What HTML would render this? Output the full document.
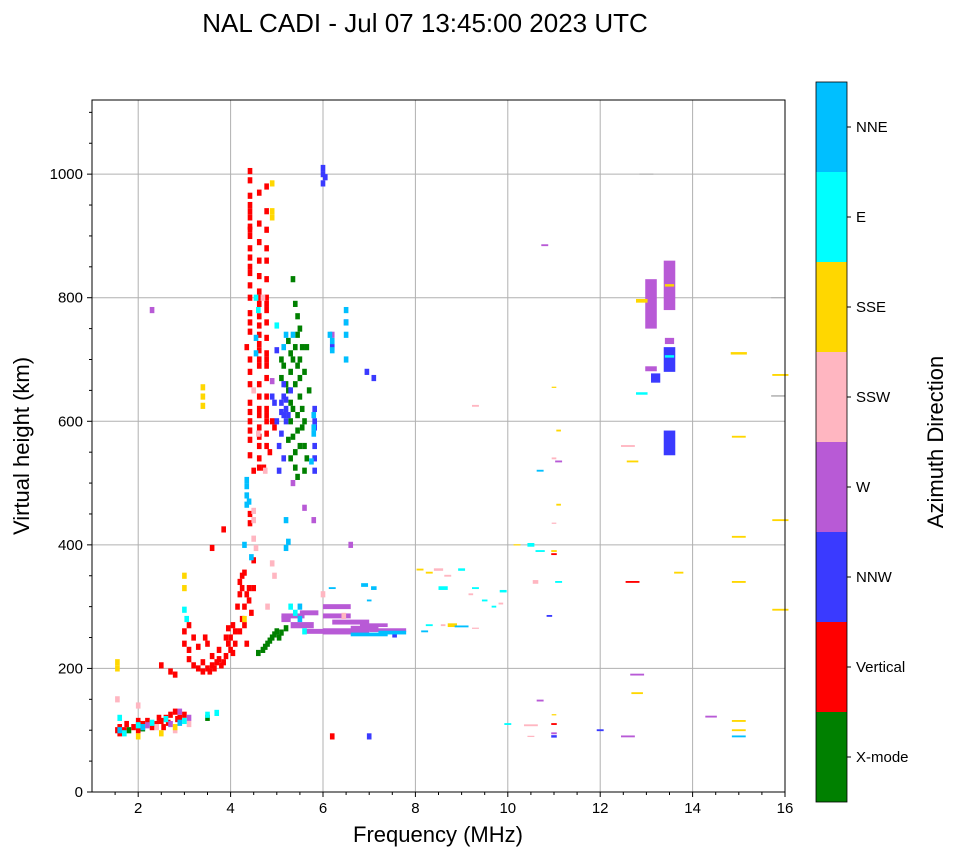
<!DOCTYPE html>
<html><head><meta charset="utf-8">
<style>
body{margin:0;background:#fff;}
svg{display:block;font-family:"Liberation Sans","DejaVu Sans",sans-serif;}
</style></head>
<body>
<svg id="chart" width="958" height="857" viewBox="0 0 958 857" xmlns="http://www.w3.org/2000/svg">
<text x="425" y="32" font-size="26" text-anchor="middle">NAL CADI - Jul 07 13:45:00 2023 UTC</text>
<g id="grid"></g>
<g id="marks"></g>
<rect x="92" y="100" width="693" height="692" fill="none" stroke="#000" stroke-width="1"/>
<g id="axes"></g>
<text x="438" y="842" font-size="22" text-anchor="middle">Frequency (MHz)</text>
<text transform="translate(29,446) rotate(-90)" font-size="22" text-anchor="middle">Virtual height (km)</text>
<g id="cbar"></g>
<text transform="translate(943,442) rotate(-90)" font-size="22" text-anchor="middle">Azimuth Direction</text>
</svg>
<script>
const dirNames = ["X-mode","Vertical","NNW","W","SSW","SSE","E","NNE"];
const dirColors = ["#008000","#ff0000","#3a3aff","#b85ad6","#ffb6c1","#ffd700","#00ffff","#00bfff"];
const xTicks = [2,4,6,8,10,12,14,16];
const yTicks = [0,200,400,600,800,1000];
// [freq MHz, height km, span MHz (opt), thickness km (opt)]
const xmode = [[1.8,100],[2.1,103],[3.5,120],[4.6,225],[4.7,230],[4.8,240],[4.9,250],[5.0,260],[5.1,258],[5.2,265],[4.95,255],[4.75,235],[4.85,245],[5.05,250],
 [5.35,830],[5.4,790],[5.45,740],[5.3,710],[5.35,700],[5.45,690],[5.3,680],[5.4,660],[5.5,640],[5.35,620],[5.3,600],[5.45,585],[5.35,575],[5.5,560],[5.3,540],[5.4,525],[5.45,510],
 [5.1,700],[5.15,690],[5.1,670],[5.6,560],[5.65,540],[5.6,520],[5.55,720],[5.5,700],[5.2,660],[5.25,650],[5.6,600],[5.55,620],[5.7,650],[5.5,750],[5.45,770],[5.25,730],[5.65,720],
 [5.4,720],[5.3,630],[5.45,610],[5.55,590],[5.25,570],[5.5,670],[5.6,680],[5.4,550]];
const vertical = [[1.55,100],[1.6,105],[1.75,110],[1.9,105],[2.0,100],[2.1,110],[2.2,115],[2.4,110],[2.5,115],[2.6,120],[2.7,125],[2.8,130],[2.9,120],[3.0,125],[2.3,105],[2.55,105],[1.6,95],[2.0,115],[1.7,100],[2.45,120],[2.65,112],[2.85,118],
 [3.0,260],[3.0,240],[3.1,230],[3.2,205],[3.3,200],[3.4,195],[3.5,200],[3.5,240],[3.6,220],[3.7,210],[3.75,230],[3.8,205],[3.9,220],[3.95,240],[4.0,250],[4.05,270],[4.1,260],[4.0,230],[3.9,250],[3.3,235],[3.45,250],[3.1,270],[3.2,250],[2.7,195],[2.8,190],[2.5,205],[3.85,425],[3.6,395],[3.4,210],[3.6,205],
 [3.55,195],[3.65,200],[3.85,210],[3.75,215],[4.1,240],[4.05,225],[3.95,265],[3.1,215],
 [4.2,340],[4.25,350],[4.2,320],[4.3,300],[4.4,310],[4.5,330],[4.45,290],[4.3,270],[4.2,260],[4.35,240],[4.3,355],[4.4,330],[4.25,280],[4.15,300],[4.35,320],[4.25,330],
 [4.42,1005],[4.42,990],[4.42,965],[4.42,950],[4.42,930],[4.42,915],[4.42,900],[4.42,880],[4.42,865],[4.42,850],[4.42,820],[4.42,800],[4.42,775],[4.35,720],[4.42,700],[4.42,680],[4.42,660],[4.42,630],[4.42,600],[4.42,570],[4.42,545],[4.5,520],[4.42,450],[4.42,435],[4.5,375],
 [4.42,940],[4.42,910],[4.42,840],[4.42,760],[4.42,745],[4.42,615],[4.42,585],
 [4.62,970],[4.62,920],[4.62,890],[4.62,860],[4.62,835],[4.62,810],[4.62,790],[4.62,770],[4.62,755],[4.62,740],[4.62,715],[4.62,700],[4.62,690],[4.62,660],[4.62,640],[4.62,610],[4.62,590],[4.62,560],[4.62,540],[4.62,525],
 [4.62,800],[4.62,725],[4.62,620],[4.62,575],
 [4.78,980],[4.78,940],[4.78,910],[4.78,880],[4.78,860],[4.78,830],[4.78,800],[4.78,780],[4.78,760],[4.78,735],[4.78,710],[4.78,690],[4.78,670],[4.78,640],[4.78,620],[4.78,600],[4.78,580],[4.78,560],[4.72,525],[4.9,600],[4.95,590],[4.85,550],
 [4.78,790],[4.78,700],[4.78,610],
 [6.2,90],[11.0,385,0.12,3],[12.7,340,0.3,3],[11.0,110,0.12,3]];
const nnw = [[5.15,660],[5.15,640],[5.1,630],[5.2,620],[5.15,610],[5.2,600],[5.1,580],[5.05,560],[5.15,540],[5.05,520],[5.0,600],[5.3,650],[5.25,610],[5.2,635],[5.1,615],
 [5.82,620],[5.82,600],[5.82,590],[5.82,560],[5.82,540],[5.82,520],[6.0,1010],[6.0,1000],[6.0,985],[6.05,995],[6.5,760],[6.95,680],[7.1,670],[6.2,720],[5.0,715],
 [7.55,255],[10.9,285,0.12,3],[13.5,700,0.25,40],[13.5,565,0.25,40],[13.2,670,0.2,15],[12.0,100,0.15,3],[11.0,90,0.12,4],[7.0,90],[4.9,640],[4.95,630]];
const wdir = [[2.2,108],[2.7,110],[2.9,130],[3.1,120],[2.3,780],[4.9,665],[5.8,440],[5.6,460],[6.6,400],[6.2,740],[5.35,500],
 [5.35,285,0.5,8],[5.55,270,0.5,10],[5.7,290,0.4,8],[6.5,260,1.0,10],[6.3,300,0.6,8],[6.3,285,0.6,8],[6.6,275,0.8,8],[6.9,265,0.6,8],[7.4,262,0.8,6],[7.1,270,0.6,6],[5.8,260,0.4,8],[5.2,280,0.2,10],
 [10.8,885,0.15,3],[11.1,535,0.15,3],[12.8,190,0.3,3],[12.6,90,0.3,3],[14.4,122,0.25,3],[10.7,148,0.15,3],[11.0,95,0.12,3],
 [13.1,790,0.25,80],[13.5,820,0.25,80],[13.1,685,0.25,8],[13.5,730,0.2,10]];
const ssw = [[1.55,150],[2.0,140],[2.4,105],[2.8,100],[3.1,110],[4.5,455],[4.5,440],[4.5,410],[4.55,395],[4.7,800],[4.6,580],[4.75,520],[4.9,370],[4.95,350],[4.8,300],[6.0,320],[6.45,285],[4.5,650],
 [8.5,360,0.2,4],[8.7,350,0.15,3],[9.2,320,0.1,3],[9.85,305,0.1,3],[10.6,340,0.12,6],[11.0,540,0.1,3],[11.0,435,0.1,2],[12.6,560,0.3,3],[9.3,625,0.15,3],[9.3,265,0.15,2],[10.5,108,0.3,3],[10.5,90,0.15,2],[8.6,270,0.1,3]];
const sse = [[1.55,210],[1.55,200],[2.0,90],[2.5,95],[2.8,105],[3.0,350],[3.0,330],[3.4,655],[3.4,640],[3.4,625],[4.9,985],[4.9,940],[4.9,930],[4.3,280],
 [8.1,360,0.15,3],[8.3,355,0.15,3],[8.8,270,0.2,6],[10.2,400,0.15,2],[11.0,390,0.12,3],[11.1,585,0.1,3],[11.0,655,0.1,2],[11.1,465,0.1,3],[12.7,535,0.25,3],[12.8,160,0.25,3],[11.0,125,0.1,2],
 [12.9,795,0.25,6],[13.7,355,0.2,3],[13.5,820,0.2,4],[15.0,710,0.35,4],[15.0,575,0.3,3],[15.0,413,0.3,3],[15.0,340,0.3,3],[15.0,115,0.3,3],[15.0,100,0.3,3],[15.9,675,0.35,3],[15.9,440,0.35,3],[15.9,295,0.35,3]];
const edir = [[1.6,120],[1.7,95],[2.0,108],[2.3,112],[2.6,118],[3.0,115],[3.5,125],[3.7,128],[3.0,295],[3.05,280],[4.55,800],[4.6,780],[5.3,300],[5.4,290],[5.0,755],[5.6,260],
 [8.6,330,0.2,6],[9.0,360,0.15,4],[9.3,330,0.15,3],[9.5,310,0.12,3],[9.7,300,0.1,3],[9.9,325,0.15,4],[10.5,400,0.15,6],[10.7,390,0.2,3],[11.1,340,0.15,3],[10.0,110,0.15,3],[8.3,270,0.15,3],[13.5,705,0.2,4],[12.9,645,0.25,4]];
const nne = [[4.35,505],[4.35,495],[4.35,480],[4.35,465],[4.55,735],[4.55,710],[4.3,400],[4.45,380],[5.2,740],[5.15,720],[5.2,440],[5.2,395],[5.25,405],
 [5.8,610],[5.8,590],[5.8,580],[5.75,535],[6.15,740],[6.2,730],[6.2,715],[6.5,780],[6.5,760],[6.5,740],[6.5,700],[5.35,740],[5.5,300],[5.5,280],[4.4,470],
 [6.9,335,0.15,6],[7.1,330,0.12,6],[7.0,310,0.1,3],[6.2,330,0.15,3],[7.0,255,0.8,6],[7.5,258,0.6,6],[8.2,260,0.15,3],[9.0,268,0.3,3],[10.7,520,0.15,3],[15.0,90,0.3,3],[1.6,100],[2.1,105],[2.9,112]];
const allDirs = [xmode, vertical, nnw, wdir, ssw, sse, edir, nne];

const X0=92, X1=785, Y0=792, Y1=100, FMIN=1, FMAX=16, HMIN=0, HMAX=1120;
const xScale = f => X0 + (f-FMIN)/(FMAX-FMIN)*(X1-X0);
const yScale = h => Y0 - (h-HMIN)/(HMAX-HMIN)*(Y0-Y1);
const NS="http://www.w3.org/2000/svg";
function mk(tag, attrs, parent){const e=document.createElementNS(NS,tag);for(const k in attrs)e.setAttribute(k,attrs[k]);parent.appendChild(e);return e;}

const grid=document.getElementById('grid'), axes=document.getElementById('axes'), marks=document.getElementById('marks'), cbar=document.getElementById('cbar');
xTicks.forEach(t=>{const x=xScale(t);
 const gl=mk('line',{x1:x,x2:x,y1:Y1,y2:Y0,stroke:'#b0b0b0','stroke-width':1},grid);
 
 
 mk('line',{x1:x,x2:x,y1:Y0,y2:Y0+5,stroke:'#000'},axes);
 const tl=mk('text',{x:x,y:Y0+21,'font-size':15,'text-anchor':'middle'},axes);
 tl.textContent=t;
 
 
});
for(let f=1.5;f<16;f+=0.5){ if(Number.isInteger(f/2)) continue; const x=xScale(f); mk('line',{x1:x,x2:x,y1:Y0,y2:Y0+3,stroke:'#000'},axes);}
yTicks.forEach(t=>{const y=yScale(t);
 if(t>0){const gl=mk('line',{x1:X0,x2:X1,y1:y,y2:y,stroke:'#b0b0b0','stroke-width':1},grid);
 
 }
 mk('line',{x1:X0-5,x2:X0,y1:y,y2:y,stroke:'#000'},axes);
 const tl=mk('text',{x:X0-9,y:y+5,'font-size':15,'text-anchor':'end'},axes);
 tl.textContent=t;
 
 
});
for(let h=50;h<1120;h+=50){ if(h%200===0) continue; const y=yScale(h); mk('line',{x1:X0-3,x2:X0,y1:y,y2:y,stroke:'#000'},axes);}

allDirs.forEach((arr,d)=>{arr.forEach(p=>{
 const span=p[2]||0.1, th=p[3]||10;
 const x=xScale(p[0]-span/2), w=xScale(p[0]+span/2)-x;
 const y=yScale(p[1]+th/2), hgt=yScale(p[1]-th/2)-y;
 const r=mk('rect',{x:x,y:y,width:w,height:hgt,fill:dirColors[d]},marks);
 
 
});});
mk('line',{x1:xScale(12.85),x2:xScale(13.15),y1:yScale(1000),y2:yScale(1000),stroke:'#aaa'},marks);
mk('line',{x1:xScale(15.7),x2:xScale(16),y1:yScale(800),y2:yScale(800),stroke:'#aaa'},marks);
mk('line',{x1:xScale(15.7),x2:xScale(16),y1:yScale(641),y2:yScale(641),stroke:'#888'},marks);

const CB_X=816, CB_W=31, CB_TOP=82, CB_BOT=802, seg=(CB_BOT-CB_TOP)/dirNames.length;
dirNames.forEach((n,i)=>{
 const y=CB_BOT-(i+1)*seg;
 const r=mk('rect',{x:CB_X,y:y,width:CB_W,height:seg,fill:dirColors[i]},cbar);
 
 
 mk('line',{x1:CB_X+CB_W,x2:CB_X+CB_W+4,y1:y+seg/2,y2:y+seg/2,stroke:'#000'},cbar);
 const t=mk('text',{x:CB_X+CB_W+9,y:y+seg/2+5,'font-size':15},cbar);
 t.textContent=n;
 
 
});
mk('rect',{x:CB_X,y:CB_TOP,width:CB_W,height:CB_BOT-CB_TOP,fill:'none',stroke:'#000','stroke-width':0.8},cbar);
</script>
</body></html>
